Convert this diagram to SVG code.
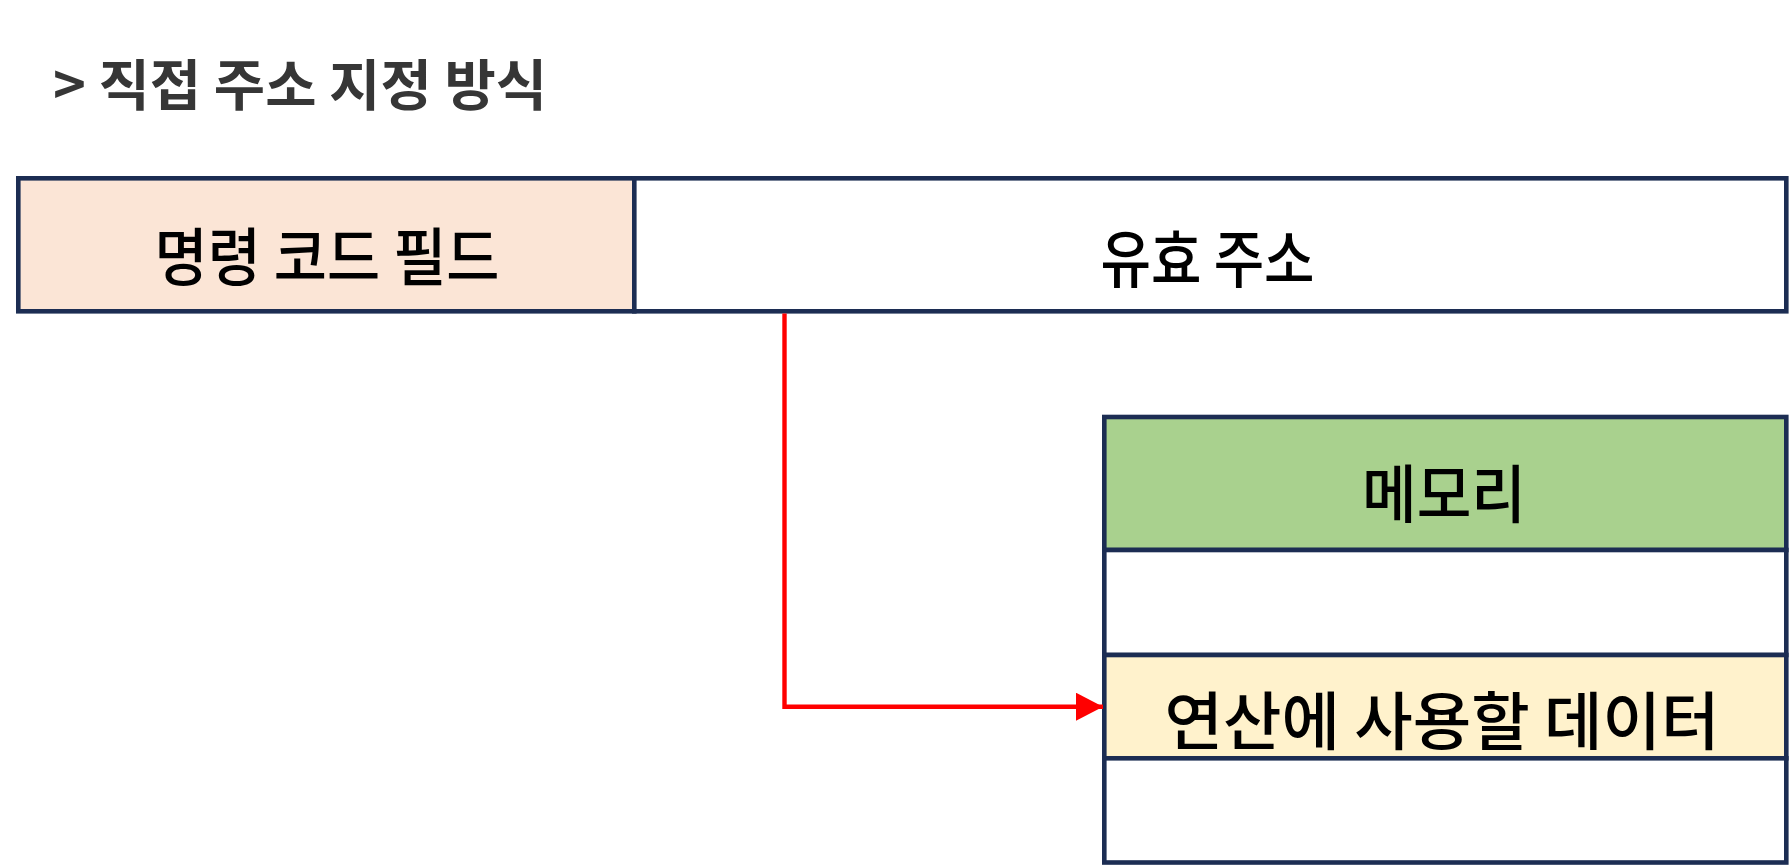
<svg xmlns="http://www.w3.org/2000/svg" width="1792" height="866" viewBox="0 0 1792 866">
  <defs>
    <style>
      .cell { stroke: #1c2d53; stroke-width: 4.6; }
      .lbl { font-family: "Noto Sans CJK KR", "Noto Sans", sans-serif; font-size: 63px; font-weight: 500; fill: #000000; text-anchor: middle; }
      .title { font-family: "Noto Sans CJK KR", "Noto Sans", sans-serif; font-size: 55px; font-weight: 700; fill: #363636; }
      .conn { fill: none; stroke: #ff0000; stroke-width: 4.4; }
    </style>
    <marker id="arrow" markerUnits="userSpaceOnUse" markerWidth="28" markerHeight="28" refX="27" refY="14" orient="auto">
      <path d="M0,0 L27,14 L0,28 Z" fill="#ff0000"/>
    </marker>
  </defs>
  <rect width="1792" height="866" fill="#ffffff"/>

  <text class="title" x="53" y="105" textLength="494" lengthAdjust="spacingAndGlyphs">&gt; 직접 주소 지정 방식</text>

  <g id="opcode">
    <rect class="cell" x="18.3" y="178.3" width="616" height="133" fill="#fbe5d6"/>
    <text class="lbl" x="327" y="280" textLength="345" lengthAdjust="spacingAndGlyphs">명령 코드 필드</text>
  </g>
  <g id="address">
    <rect class="cell" x="634.3" y="178.3" width="1152" height="133" fill="#ffffff"/>
    <text class="lbl" x="1207.5" y="282" textLength="214" lengthAdjust="spacingAndGlyphs">유효 주소</text>
  </g>

  <g id="memory">
    <rect class="cell" x="1104.3" y="417" width="682" height="133" fill="#a9d18e"/>
    <text class="lbl" x="1444" y="517" textLength="164" lengthAdjust="spacingAndGlyphs">메모리</text>
  </g>
  <g id="mem-row1">
    <rect class="cell" x="1104.3" y="550" width="682" height="105" fill="#ffffff"/>
  </g>
  <g id="mem-data">
    <rect class="cell" x="1104.3" y="655" width="682" height="103.3" fill="#fff2cc"/>
    <text class="lbl" x="1442" y="744" textLength="555" lengthAdjust="spacingAndGlyphs">연산에 사용할 데이터</text>
  </g>
  <g id="mem-row3">
    <rect class="cell" x="1104.3" y="758.3" width="682" height="104.2" fill="#ffffff"/>
  </g>

  <g id="connectors">
    <path class="conn" d="M784.5,313.5 L784.5,706.7 L1103,706.7" marker-end="url(#arrow)"/>
  </g>
</svg>
